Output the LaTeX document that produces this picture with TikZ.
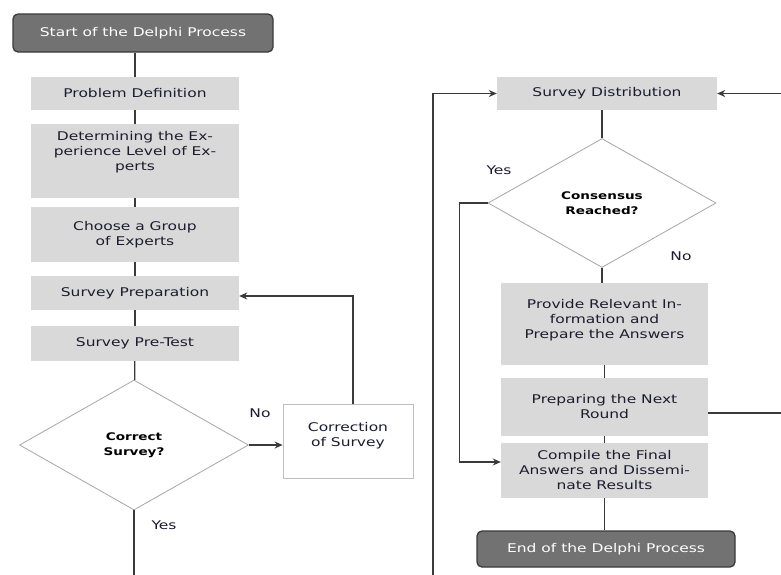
\documentclass[tikz,border=0pt]{standalone}
\usepackage{fontspec}
\setmainfont{DejaVu Sans}[FakeStretch=1.29]
\usepackage{tikz}
\usetikzlibrary{calc,shapes,positioning}
\usetikzlibrary{arrows.meta}
\tikzset{>={Stealth[width=7pt,length=8pt]}}
\definecolor{boxgray}{HTML}{D9D9D9}
\definecolor{termgray}{HTML}{727272}
\definecolor{linegray}{HTML}{3A3A3A}
\definecolor{txtblue}{HTML}{1C1C30}

\begin{document}
\begin{tikzpicture}[x=1pt, y=-1pt]
          \tikzstyle{tnode} = [draw=linegray, fill=termgray, rounded corners=5pt, line width=1.3pt, text=white, inner sep=0pt, font=\fontsize{12}{15}\selectfont]
          \tikzstyle{pnode} = [fill=boxgray, text=txtblue, inner sep=0pt, align=center, minimum width=208pt, font=\fontsize{12}{15}\selectfont]
          \tikzstyle{dnode} = [diamond, draw=black!35, line width=0.8pt, fill=white, inner sep=0pt, align=center, text=black, font=\fontsize{10.5}{15}\selectfont\bfseries]
          \tikzstyle{lbl} = [text=txtblue, inner sep=0pt, font=\fontsize{12}{15}\selectfont]
          \tikzstyle{flow} = [draw=linegray, line width=1.3pt]
          \useasboundingbox (0,0) rectangle (781,574);

          % left column
          \node[tnode, minimum width=260pt, minimum height=38pt] (start) at (143, 33) {Start of the Delphi Process};
          \node[pnode, minimum height=33pt] (probdef) at (135, 93.5) {Problem Definition};
          \node[pnode, minimum height=74pt, text depth=20pt] (explevel) at (135, 161) {Determining the Ex-\\perience Level of Ex-\\perts};
          \node[pnode, minimum height=55pt] (expgroup) at (135, 234.5) {Choose a Group\\of Experts};
          \node[pnode, minimum height=34pt] (prep) at (135, 293) {Survey Preparation};
          \node[pnode, minimum height=35pt] (pretest) at (135, 343.5) {Survey Pre-Test};
          \node[dnode, minimum width=229pt, minimum height=130pt] (correct) at (134, 445) {Correct\\Survey?};
          \node[draw=black!25, line width=0.8pt, fill=white, text=txtblue, align=center, inner sep=0pt, minimum width=130pt, minimum height=74pt, text depth=14pt, font=\fontsize{12}{15}\selectfont] (fix) at (348, 441) {Correction\\of Survey};

          % right column
          \node[pnode, minimum width=220pt, minimum height=33pt] (distrib) at (607, 93.5) {Survey Distribution};
          \node[dnode, minimum width=228pt, minimum height=129pt] (consensus) at (602, 203) {Consensus\\Reached?};
          \node[pnode, minimum width=207pt, minimum height=82pt, text depth=10pt] (relinfo) at (604.5, 324) {Provide Relevant In-\\formation and\\Prepare the Answers};
          \node[pnode, minimum width=207pt, minimum height=58pt] (nextround) at (604.5, 407) {Preparing the Next\\Round};
          \node[pnode, minimum width=207pt, minimum height=55pt] (compile) at (604.5, 470.5) {Compile the Final\\Answers and Dissemi-\\nate Results};
          \node[tnode, minimum width=258pt, minimum height=36pt] (finish) at (606, 549) {End of the Delphi Process};

          \coordinate (lloop) at (433, 600);
          \coordinate (rloop) at (786, 413);

          \draw[flow] (probdef.north |- start.south) to (probdef);
          \draw[flow] (probdef) to (explevel);
          \draw[flow] (explevel) to (expgroup);
          \draw[flow] (expgroup) to (prep);
          \draw[flow] (prep) to (pretest);
          \draw[flow] (pretest) to (correct);
          \draw[flow, ->] (correct.east) -- (correct.east -| fix.west);
          \draw[flow, ->] ([xshift=5pt]fix.north) |- ([yshift=-3pt]prep.east);
          \draw[flow, ->] (correct.south) |- (lloop) |- (distrib.west);

          \draw[flow] (consensus.north |- distrib.south) to (consensus);
          \draw[flow] (consensus) to (consensus.south |- relinfo.north);
          \draw[flow] (relinfo) to (nextround);
          \draw[flow] (nextround) to (compile);
          \draw[flow] (compile) to (compile.south |- finish.north);
          \draw[flow, ->] (consensus.west) -- ++(-28, 0) |- ([yshift=8.5pt]compile.west);
          \draw[flow, ->] ([yshift=-6pt]nextround.east) -- (rloop) |- (distrib.east);

          \node[lbl] (no1) at (260, 413) {No};
          \node[lbl] (yes1) at (164, 525) {Yes};
          \node[lbl] (yes2) at (499, 170) {Yes};
          \node[lbl] (no2) at (681, 256) {No};
        \end{tikzpicture}
\end{document}
